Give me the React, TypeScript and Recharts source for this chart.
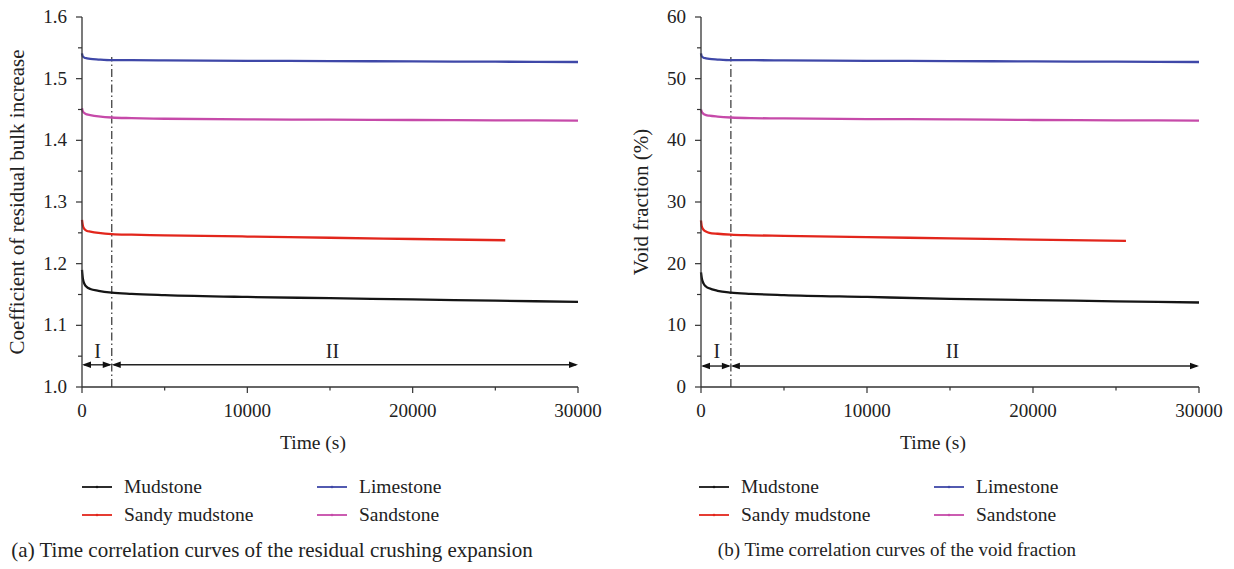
import React from "react";
import { LineChart, Line, XAxis, YAxis, ReferenceLine, ReferenceDot } from "recharts";

// time axis (s)
const timeFull = [0, 50, 150, 300, 500, 1000, 1800, 3000, 5000, 10000, 15000, 20000, 25000, 30000];
const timeSandy = [0, 50, 150, 300, 500, 1000, 1800, 3000, 5000, 10000, 15000, 20000, 25600];

// (a) coefficient of residual bulk increase
const mudstoneA = [1.19, 1.176, 1.167, 1.162, 1.159, 1.156, 1.153, 1.151, 1.149, 1.146, 1.144, 1.142, 1.14, 1.138];
const sandyA = [1.271, 1.262, 1.256, 1.253, 1.252, 1.25, 1.248, 1.247, 1.246, 1.244, 1.242, 1.24, 1.238];
const limestoneA = [1.541, 1.536, 1.534, 1.533, 1.532, 1.531, 1.53, 1.53, 1.5295, 1.529, 1.5285, 1.528, 1.5275, 1.527];
const sandstoneA = [1.452, 1.447, 1.444, 1.442, 1.441, 1.439, 1.437, 1.436, 1.435, 1.434, 1.4335, 1.433, 1.4325, 1.432];

// (b) void fraction (%)
const mudstoneB = [18.6, 17.6, 16.8, 16.3, 16.0, 15.6, 15.3, 15.1, 14.9, 14.6, 14.3, 14.1, 13.9, 13.7];
const sandyB = [27.0, 26.0, 25.5, 25.2, 25.0, 24.85, 24.7, 24.6, 24.5, 24.3, 24.1, 23.9, 23.7];
const limestoneB = [54.1, 53.6, 53.4, 53.3, 53.2, 53.1, 53.0, 53.0, 52.95, 52.9, 52.85, 52.8, 52.75, 52.7];
const sandstoneB = [45.0, 44.6, 44.3, 44.1, 44.0, 43.85, 43.7, 43.6, 43.55, 43.45, 43.4, 43.3, 43.25, 43.2];

const xTicks = [0, 5000, 10000, 15000, 20000, 25000, 30000];
const yTicksA = [1.0, 1.05, 1.1, 1.15, 1.2, 1.25, 1.3, 1.35, 1.4, 1.45, 1.5, 1.55, 1.6];
const yTicksB = [0, 5, 10, 15, 20, 25, 30, 35, 40, 45, 50, 55, 60];

const stageBoundary = 1800;
const stageLabels = ["I", "II"];
const stageLabelTimes = [950, 15150];

const seriesNames = ["Mudstone", "Sandy mudstone", "Limestone", "Sandstone"];
const seriesColors = ["#151515", "#e2261c", "#3f48a8", "#c64aa9"];

const FONT = '"Liberation Serif", "Times New Roman", serif';
const AXIS = "#333";

const zip = (ts: number[], vs: number[]) => ts.map((t, i) => ({ t, v: vs[i] }));

function XTick(props: any) {
  const { x, y, payload } = props;
  const major = payload.value % 10000 === 0;
  return (
    <g>
      <line x1={x} x2={x} y1={y} y2={y + (major ? 6 : 3.5)} stroke={AXIS} strokeWidth={1.2} />
      {major && (
        <text x={x} y={y + 30} textAnchor="middle" fontSize={19} fill="#222" fontFamily={FONT}>
          {payload.value}
        </text>
      )}
    </g>
  );
}

function makeYTick(isMajor: (v: number) => boolean, fmt: (v: number) => string) {
  return (props: any) => {
    const { x, y, payload } = props;
    const major = isMajor(payload.value);
    return (
      <g>
        <line x1={x - (major ? 6 : 4)} x2={x} y1={y} y2={y} stroke={AXIS} strokeWidth={1.2} />
        {major && (
          <text x={x - 15} y={y + 6} textAnchor="end" fontSize={19} fill="#222" fontFamily={FONT}>
            {fmt(payload.value)}
          </text>
        )}
      </g>
    );
  };
}

function ArrowShape(props: any) {
  const { x1, y1, x2, y2 } = props;
  const h = 9;
  const w = 3.3;
  return (
    <g>
      <line x1={x1 + 2} y1={y1} x2={x2 - 2} y2={y2} stroke="#222" strokeWidth={1.4} />
      <polygon points={`${x1},${y1} ${x1 + h},${y1 - w} ${x1 + h},${y1 + w}`} fill="#111" />
      <polygon points={`${x2},${y2} ${x2 - h},${y2 - w} ${x2 - h},${y2 + w}`} fill="#111" />
    </g>
  );
}

function StageText(props: any) {
  const { cx, cy, label } = props;
  return (
    <text x={cx} y={cy + 7} textAnchor="middle" fontSize={20} fill="#222" fontFamily={FONT}>
      {label}
    </text>
  );
}

interface PanelProps {
  left: number;
  plotLeft: number;
  plotRight: number;
  yLabel: string;
  yLabelX: number;
  yLabelSize: number;
  yDomain: [number, number];
  yTicks: number[];
  yTick: (p: any) => React.ReactElement;
  arrowY: number;
  stageY: number;
  boundaryTop: number;
  values: number[][];
  caption: string;
  captionCenter: number;
  captionSize: number;
}

function Panel(p: PanelProps) {
  const W = 617;
  const data = [
    zip(timeFull, p.values[0]),
    zip(timeSandy, p.values[1]),
    zip(timeFull, p.values[2]),
    zip(timeFull, p.values[3]),
  ];
  return (
    <div style={{ position: "absolute", left: p.left, top: 0, width: W, height: 569, fontFamily: FONT }}>
      <LineChart width={W} height={460} margin={{ top: 17, right: W - p.plotRight, left: 0, bottom: 0 }}>
        <XAxis
          dataKey="t"
          type="number"
          domain={[0, 30000]}
          ticks={xTicks}
          interval={0}
          tickSize={0}
          tickMargin={0}
          tick={<XTick />}
          height={73}
          axisLine={{ stroke: AXIS, strokeWidth: 1.3 }}
          allowDuplicatedCategory={false}
          label={(lp: any) => (
            <text
              x={lp.viewBox.x + lp.viewBox.width / 2 - 17}
              y={lp.viewBox.y + 62}
              textAnchor="middle"
              fontSize={19.5}
              fill="#222"
              fontFamily={FONT}
            >
              Time (s)
            </text>
          )}
        />
        <YAxis
          type="number"
          domain={p.yDomain}
          ticks={p.yTicks}
          interval={0}
          tickSize={0}
          tickMargin={0}
          tick={p.yTick}
          width={p.plotLeft}
          axisLine={{ stroke: AXIS, strokeWidth: 1.3 }}
          label={(lp: any) => {
            const cx = lp.viewBox.x + p.yLabelX;
            const cy = lp.viewBox.y + lp.viewBox.height / 2;
            return (
              <text
                x={cx}
                y={cy}
                transform={`rotate(-90 ${cx} ${cy})`}
                textAnchor="middle"
                fontSize={p.yLabelSize}
                fill="#222"
                fontFamily={FONT}
              >
                {p.yLabel}
              </text>
            );
          }}
        />
        <ReferenceLine
          segment={[
            { x: stageBoundary, y: p.yDomain[0] },
            { x: stageBoundary, y: p.boundaryTop },
          ]}
          stroke="#333"
          strokeWidth={1.2}
          strokeDasharray="8 3 1.5 3"
        />
        <ReferenceLine
          segment={[
            { x: 0, y: p.arrowY },
            { x: stageBoundary, y: p.arrowY },
          ]}
          shape={<ArrowShape />}
        />
        <ReferenceLine
          segment={[
            { x: stageBoundary, y: p.arrowY },
            { x: 30000, y: p.arrowY },
          ]}
          shape={<ArrowShape />}
        />
        {stageLabels.map((s, i) => (
          <ReferenceDot key={s} x={stageLabelTimes[i]} y={p.stageY} r={0} shape={<StageText label={s} />} />
        ))}
        {data.map((d, i) => (
          <Line
            key={seriesNames[i]}
            data={d}
            dataKey="v"
            name={seriesNames[i]}
            type="monotone"
            stroke={seriesColors[i]}
            strokeWidth={2.3}
            dot={false}
            isAnimationActive={false}
          />
        ))}
      </LineChart>
      {seriesNames.map((name, i) => {
        const col = i < 2 ? 0 : 1;
        const row = i % 2;
        const lx = col === 0 ? 82 : 317;
        const ly = 487 + row * 28;
        return (
          <div
            key={name}
            style={{ position: "absolute", left: lx, top: ly - 14, height: 28, display: "flex", alignItems: "center" }}
          >
            <svg width={30} height={10} style={{ display: "block" }}>
              <line x1={0} x2={30} y1={5} y2={5} stroke={seriesColors[i]} strokeWidth={1.8} />
              <circle cx={15} cy={5} r={1.3} fill={seriesColors[i]} />
            </svg>
            <span style={{ marginLeft: 12, fontSize: 19.5, color: "#222", whiteSpace: "nowrap" }}>{name}</span>
          </div>
        );
      })}
      <div
        style={{
          position: "absolute",
          left: p.captionCenter - 300,
          width: 600,
          top: 539 - (p.captionSize - 19) / 2,
          textAlign: "center",
          fontSize: p.captionSize,
          color: "#222",
          whiteSpace: "nowrap",
        }}
      >
        {p.caption}
      </div>
    </div>
  );
}

export default function App() {
  return (
    <div style={{ position: "absolute", left: 0, top: 0, width: 1234, height: 569, background: "#fff" }}>
      <Panel
        left={0}
        plotLeft={82}
        plotRight={578}
        yLabel="Coefficient of residual bulk increase"
        yLabelX={24}
        yLabelSize={21}
        yDomain={[1.0, 1.6]}
        yTicks={yTicksA}
        yTick={makeYTick((v) => Math.abs(v * 10 - Math.round(v * 10)) < 1e-6, (v) => v.toFixed(1))}
        arrowY={1.036}
        stageY={1.058}
        boundaryTop={1.535}
        values={[mudstoneA, sandyA, limestoneA, sandstoneA]}
        caption="(a) Time correlation curves of the residual crushing expansion"
        captionCenter={272}
        captionSize={21}
      />
      <Panel
        left={617}
        plotLeft={84}
        plotRight={582}
        yLabel="Void fraction (%)"
        yLabelX={31}
        yLabelSize={21}
        yDomain={[0, 60]}
        yTicks={yTicksB}
        yTick={makeYTick((v) => v % 10 === 0, (v) => String(v))}
        arrowY={3.4}
        stageY={5.8}
        boundaryTop={53.5}
        values={[mudstoneB, sandyB, limestoneB, sandstoneB]}
        caption="(b) Time correlation curves of the void fraction"
        captionCenter={280}
        captionSize={19}
      />
    </div>
  );
}
